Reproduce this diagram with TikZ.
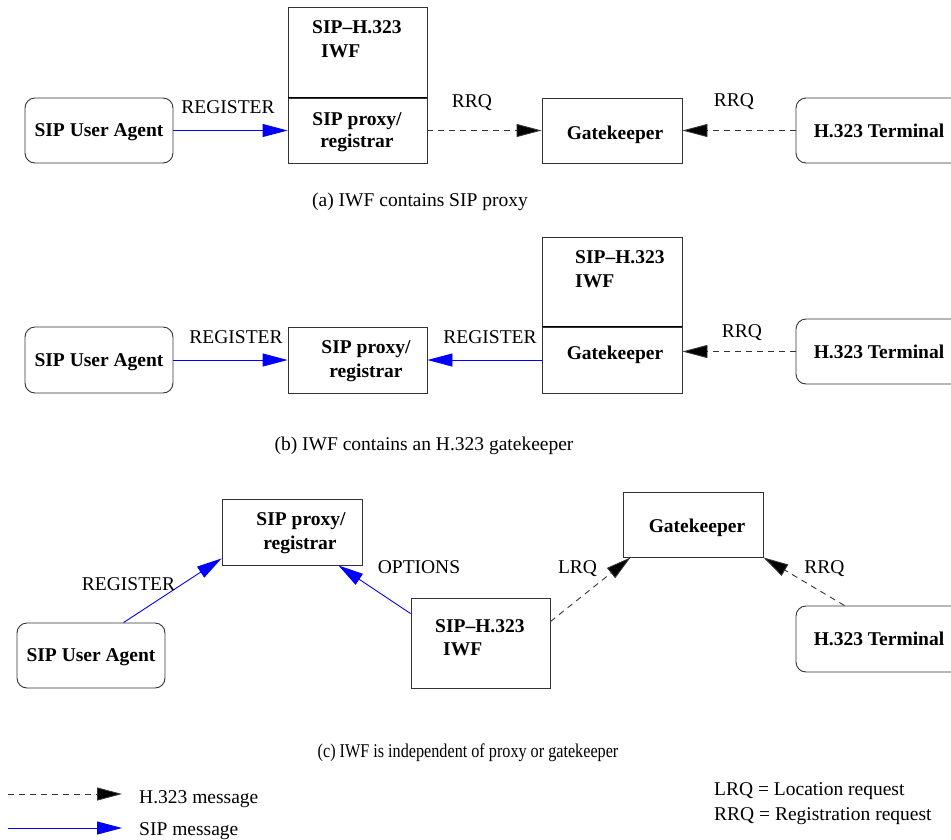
\documentclass[tikz,border=0pt]{standalone}
\usepackage{fontspec}
\setmainfont{Liberation Serif}
\usetikzlibrary{arrows.meta,calc}

\newcommand{\diagfont}{\fontsize{19.5}{22}\selectfont}

\tikzset{
  box/.style={draw=black!80, line width=0.9pt, rectangle, inner sep=0pt,
              text depth=0pt, font=\diagfont\bfseries},
  rbox/.style={box, rounded corners=10pt},
  txt/.style={inner sep=0pt, anchor=base, font=\diagfont},
  btxt/.style={txt, font=\diagfont\bfseries},
  ltxt/.style={inner sep=0pt, anchor=base west, font=\diagfont},
  sipmsg/.style={blue, line width=0.9pt, -{Triangle[length=25pt,width=13pt]}},
  hmsg/.style={draw=black!80, line width=0.9pt, dash pattern=on 6pt off 5pt,
               -{Triangle[length=25pt,width=13pt,fill=black]}},
  divider/.style={black, line width=1.6pt}
}

\begin{document}
\begin{tikzpicture}[x=1pt, y=-1pt]
\useasboundingbox (0,0) rectangle (951,839);

% ---------- (a) IWF contains SIP proxy ----------
\node[rbox, minimum width=148pt, minimum height=65pt] (ua1) at (99,130.5) {SIP User Agent};
\node[box, minimum width=139pt, minimum height=91pt] (iwf1) at (357.5,52.5) {};
\node[box, minimum width=139pt, minimum height=65pt] (px1) at (357.5,130.5) {};
\node[box, minimum width=140pt, minimum height=65pt] (gk1) at (612,130.5) {};
\node[rbox, minimum width=166pt, minimum height=65pt] (t1) at (879,130.5) {H.323 Terminal};
\draw[divider] (px1.north west) -- (px1.north east);

\node[btxt, anchor=base west] (iwf1a) at (312,33) {SIP--H.323};
\node[btxt, anchor=base west] (iwf1b) at (321,57) {IWF};
\node[btxt] (px1a) at (357,125) {SIP proxy/};
\node[btxt] (px1b) at (357,147) {registrar};
\node[btxt] (gk1a) at (615,139) {Gatekeeper};

\draw[sipmsg] (ua1.east) -- (px1.west);
\draw[hmsg] (px1.east) -- (gk1.west);
\draw[hmsg] (t1.west) -- (gk1.east);

\node[txt] (l1a) at (228,113) {REGISTER};
\node[txt] (l1b) at (472,107) {RRQ};
\node[txt] (l1c) at (734,106) {RRQ};

\node[txt] (capa) at (420,206) {(a) IWF contains SIP proxy};

% ---------- (b) IWF contains an H.323 gatekeeper ----------
\node[rbox, minimum width=148pt, minimum height=66pt] (ua2) at (99,360) {SIP User Agent};
\node[box, minimum width=139pt, minimum height=66pt] (px2) at (357.5,360) {};
\node[box, minimum width=140pt, minimum height=90pt] (iwf2) at (612,282) {};
\node[box, minimum width=140pt, minimum height=66pt] (gk2) at (612,360) {};
\node[rbox, minimum width=166pt, minimum height=65pt] (t2) at (879,351.5) {H.323 Terminal};
\draw[black, line width=1pt] (gk2.north west) -- (gk2.north east);

\node[btxt] (px2a) at (366,353) {SIP proxy/};
\node[btxt] (px2b) at (366,377) {registrar};
\node[btxt, anchor=base west] (iwf2a) at (575,263) {SIP--H.323};
\node[btxt, anchor=base west] (iwf2b) at (575,287) {IWF};
\node[btxt] (gk2a) at (615,359) {Gatekeeper};

\draw[sipmsg] (ua2.east) -- (px2.west);
\draw[sipmsg] (gk2.west) -- (px2.east);
\draw[hmsg] (t2.west) -- (t2.west -| gk2.east);

\node[txt] (l2a) at (236,343) {REGISTER};
\node[txt] (l2b) at (490,343) {REGISTER};
\node[txt] (l2c) at (742,337) {RRQ};

\node[txt] (capb) at (424,450) {(b) IWF contains an H.323 gatekeeper};

% ---------- (c) IWF is independent of proxy or gatekeeper ----------
\node[box, minimum width=140pt, minimum height=66pt] (px3) at (292,532) {};
\node[rbox, minimum width=148pt, minimum height=65pt] (ua3) at (91,655.5) {SIP User Agent};
\node[box, minimum width=139pt, minimum height=90pt] (iwf3) at (480.5,643) {};
\node[box, minimum width=140pt, minimum height=65pt] (gk3) at (693,524.5) {};
\node[rbox, minimum width=166pt, minimum height=66pt] (t3) at (879,639) {H.323 Terminal};

\node[btxt] (px3a) at (301,525) {SIP proxy/};
\node[btxt] (px3b) at (300,549) {registrar};
\node[btxt, anchor=base west] (iwf3a) at (435,632) {SIP--H.323};
\node[btxt, anchor=base west] (iwf3b) at (443,655) {IWF};
\node[btxt] (gk3a) at (697,532) {Gatekeeper};

\draw[sipmsg] ($(ua3.north west)+(107,0)$) -- ($(px3.south west)+(0,-7)$);
\draw[sipmsg] ($(iwf3.north west)+(0,16)$) -- ($(px3.south east)+(-24,0)$);
\draw[hmsg] ($(iwf3.north east)+(0,24)$) -- ($(gk3.south west)+(8,0)$);
\draw[hmsg] ($(t3.north west)+(49,0)$) -- (gk3.south east);

\node[txt] (l3a) at (128.5,590) {REGISTER};
\node[txt] (l3b) at (419,573) {OPTIONS};
\node[txt] (l3c) at (577.5,573) {LRQ};
\node[txt] (l3d) at (824.5,573) {RRQ};

\node[txt, xscale=0.83] (capc) at (468,757) {(c) IWF is independent of proxy or gatekeeper};

% ---------- legend ----------
\coordinate (hs) at (8,794);
\coordinate (he) at (122,794);
\coordinate (ss) at (8,828);
\coordinate (se) at (122,828);
\draw[hmsg] (hs) -- (he);
\draw[sipmsg] (ss) -- (se);
\node[ltxt] (lh) at (139,803) {H.323 message};
\node[ltxt] (ls) at (139,835) {SIP message};
\node[ltxt] (lrq) at (714,795) {LRQ = Location request};
\node[ltxt] (rrq) at (714,820) {RRQ = Registration request};
\end{tikzpicture}
\end{document}
